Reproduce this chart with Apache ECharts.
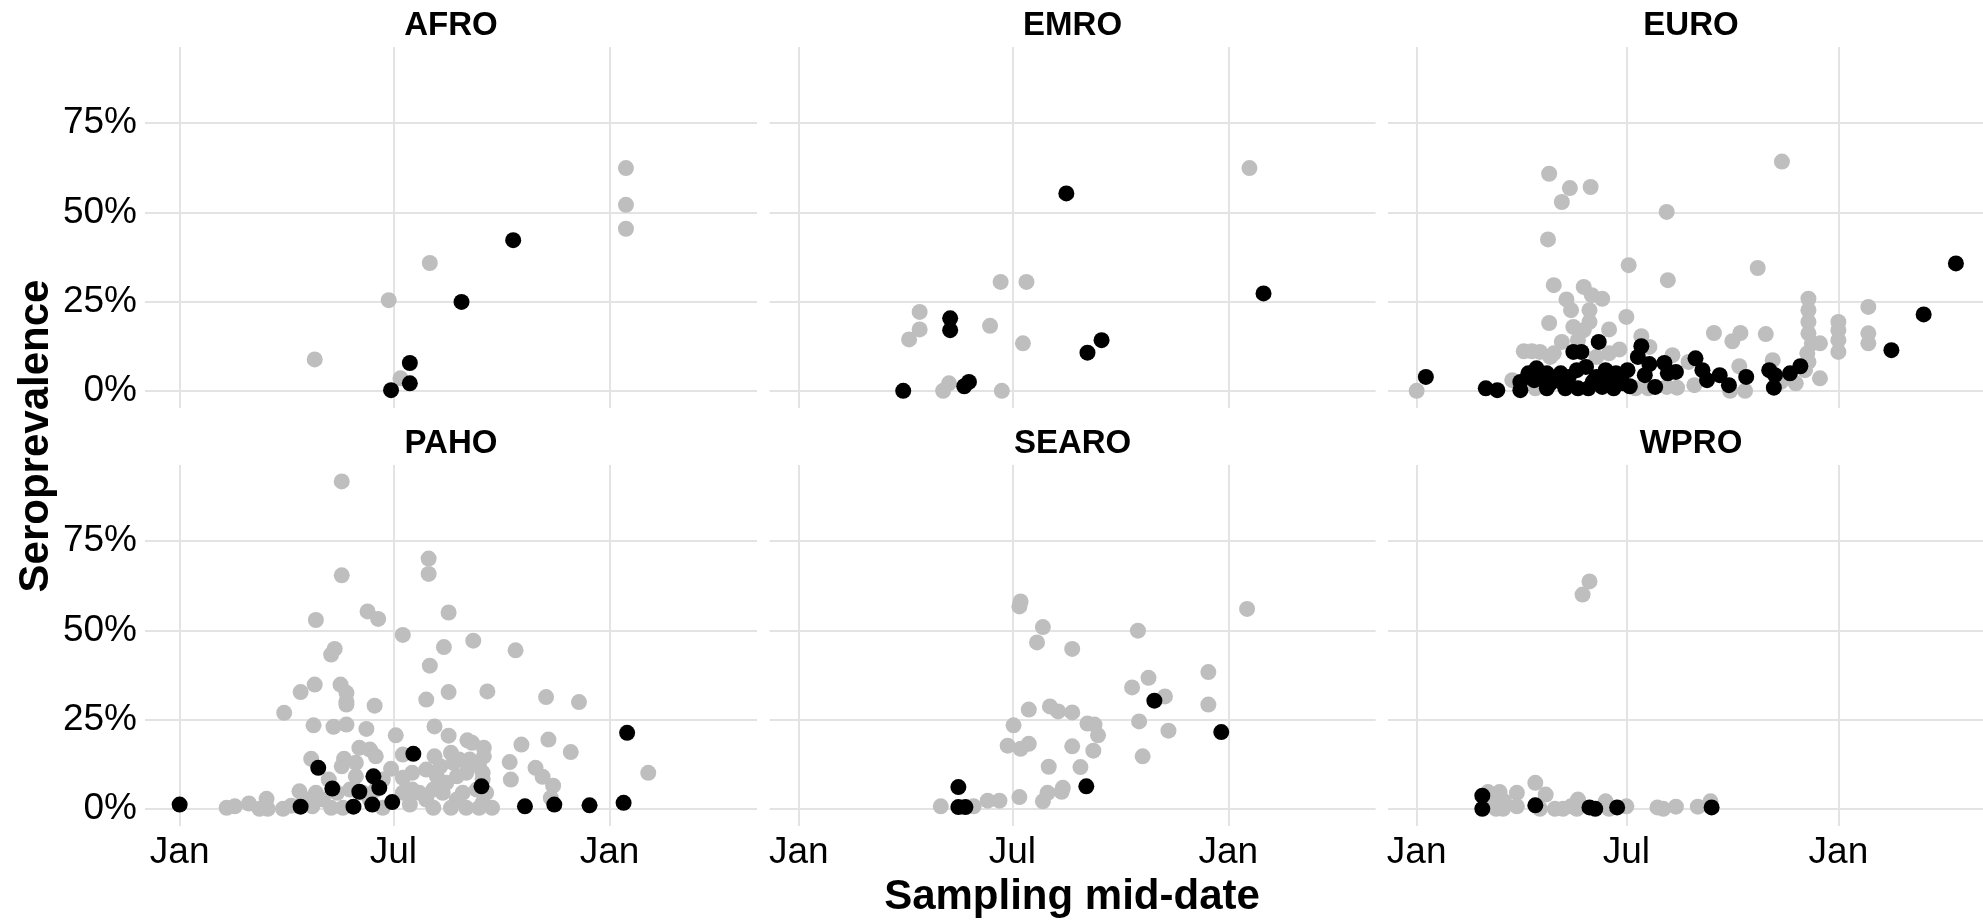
<!DOCTYPE html>
<html><head><meta charset="utf-8">
<script src="https://cdn.jsdelivr.net/npm/echarts@6/dist/echarts.min.js"></script>
<style>html,body{margin:0;padding:0;background:#fff}#c{width:1983px;height:920px}</style>
</head><body><div id="c"></div><script>
// ---------------- DATA ----------------
const regions = ['AFRO', 'EMRO', 'EURO', 'PAHO', 'SEARO', 'WPRO'];
const yTicks = [0, 25, 50, 75];
const yTickLabels = ['0%', '25%', '50%', '75%'];
const xTicks = ['2020-01-01', '2020-07-01', '2021-01-01'];
const xTickLabels = ['Jan', 'Jul', 'Jan'];
const xTitle = 'Sampling mid-date';
const yTitle = 'Seroprevalence';

const afroGray = [['2020-04-25',8.8],['2020-06-27',25.4],['2020-07-07',3.5],['2020-08-01',35.8],
  ['2021-01-15',62.4],['2021-01-15',52.1],['2021-01-15',45.4]];
const afroBlack = [['2020-06-29',0.2],['2020-07-15',2.1],['2020-07-15',7.8],['2020-08-28',24.9],['2020-10-11',42.2]];

const emroGray = [['2020-04-13',22.1],['2020-04-13',17.2],['2020-04-04',14.4],['2020-05-08',2.1],['2020-05-03',0],
  ['2020-06-12',18.2],['2020-06-21',30.5],['2020-07-13',30.5],['2020-07-10',13.3],['2020-06-22',0],['2021-01-19',62.4]];
const emroBlack = [['2020-03-30',0],['2020-05-09',20.3],['2020-05-09',17.0],['2020-05-21',1.3],['2020-05-25',2.5],
  ['2020-08-16',55.3],['2020-09-15',14.2],['2020-09-03',10.7],['2021-01-31',27.3]];

const euroGray = [['2020-01-01',0],['2020-04-25',60.8],['2020-05-13',56.8],['2020-05-06',52.9],['2020-05-31',57.1],
  ['2020-04-24',42.4],['2020-08-05',50.1],['2020-07-03',35.2],['2020-08-06',31],['2020-10-23',34.4],['2020-11-13',64.2],
  ['2020-04-29',29.6],['2020-05-25',29.1],['2020-05-10',25.6],['2020-06-01',26.8],['2020-06-10',25.8],['2020-05-14',22.6],
  ['2020-05-30',22.6],['2020-04-25',19.0],['2020-05-30',19.3],['2020-07-01',20.7],['2020-05-16',17.9],['2020-05-25',17.0],
  ['2020-06-16',17.2],['2020-05-06',13.7],['2020-05-20',14.2],['2020-04-03',11.1],['2020-04-10',11.1],['2020-04-17',10.9],
  ['2020-04-29',10.5],['2020-06-25',11.6],['2020-07-14',15.3],['2020-07-21',12.3],['2020-08-10',10.0],['2020-09-15',16.2],
  ['2020-10-01',13.9],['2020-10-08',16.2],['2020-10-30',15.9],['2020-08-24',8.1],['2020-10-07',6.9],['2020-11-05',8.6],
  ['2020-12-06',25.8],['2020-12-06',22.6],['2020-12-06',19.3],['2020-12-06',16.1],['2020-12-09',13.3],['2020-12-16',13.3],
  ['2020-12-05',10.5],['2020-12-06',8.1],['2020-12-03',5.8],['2020-12-16',3.5],['2020-11-25',2.1],
  ['2021-01-01',19.3],['2021-01-01',17.0],['2021-01-01',14.2],['2021-01-01',10.9],
  ['2021-01-27',23.5],['2021-01-27',16.1],['2021-01-27',13.3],
  ['2020-08-29',1.6],['2020-08-14',0.9],['2020-09-29',0],['2020-10-12',0],['2020-11-12',2.5],['2020-03-24',3.0],
  ['2020-04-13',0.7],['2020-04-26',9.5],['2020-06-05',9.5],['2020-06-16',10.5],['2020-07-09',0.7],['2020-07-20',0.7],['2020-08-05',1.1]];
const euroBlack = [['2020-01-09',3.9],['2020-03-01',0.7],['2020-03-11',0.2],['2020-03-31',0.2],['2020-03-31',2.5],
  ['2020-04-07',4.9],['2020-04-14',6.3],['2020-04-23',4.9],['2020-04-23',0.7],['2020-05-02',3.0],['2020-05-09',0.7],
  ['2020-05-16',10.9],['2020-05-23',10.9],['2020-05-19',5.8],['2020-05-20',0.7],['2020-05-29',0.7],['2020-05-27',6.7],
  ['2020-06-07',13.7],['2020-06-05',3.9],['2020-06-13',5.8],['2020-06-10',1.1],['2020-06-20',0.7],['2020-06-22',4.9],
  ['2020-07-02',5.8],['2020-07-04',1.3],['2020-07-14',12.5],['2020-07-11',9.5],['2020-07-21',7.5],['2020-07-17',4.4],
  ['2020-07-26',1.1],['2020-08-03',7.8],['2020-08-06',4.9],['2020-08-13',5.3],['2020-08-30',9.1],['2020-09-05',5.8],
  ['2020-09-09',3.0],['2020-09-20',4.4],['2020-09-28',1.6],['2020-10-13',3.9],['2020-11-02',5.8],['2020-11-07',4.4],
  ['2020-11-06',0.9],['2020-11-20',4.9],['2020-11-29',6.9],['2021-02-16',11.4],['2021-03-16',21.4],['2021-04-13',35.7],
  ['2020-04-12',3.0],['2020-04-20',3.0],['2020-05-05',4.9],['2020-05-12',3.9],['2020-06-02',2.6],['2020-06-16',2.1],
  ['2020-06-28',2.1],['2020-04-26',2.1]];

const pahoGray = [['2020-05-18',91.7],['2020-05-18',65.4],['2020-07-31',70.1],['2020-07-31',65.8],['2020-06-09',55.3],
  ['2020-06-18',53.2],['2020-08-17',55.0],['2020-04-26',52.9],['2020-07-09',48.7],['2020-09-07',47.1],['2020-08-13',45.3],
  ['2020-10-13',44.4],['2020-05-12',44.8],['2020-05-09',43.2],['2020-08-01',40.1],['2020-04-13',32.7],['2020-04-25',34.8],
  ['2020-05-17',34.8],['2020-05-22',32.5],['2020-05-22',30.1],['2020-05-22',29.2],['2020-06-15',28.9],['2020-07-29',30.6],
  ['2020-08-17',32.7],['2020-09-19',32.9],['2020-11-08',31.3],['2020-12-06',29.9],['2020-03-30',26.9],['2020-04-24',23.4],
  ['2020-05-11',23.0],['2020-05-22',23.6],['2020-06-08',22.4],['2020-07-03',20.6],['2020-08-05',23.1],['2020-08-17',20.5],
  ['2020-09-02',19.2],['2020-09-06',18.5],['2020-09-16',17.1],['2020-09-16',14.7],['2020-10-18',18.0],['2020-11-10',19.4],
  ['2020-11-29',15.9],['2020-10-08',13.1],['2020-10-09',8.2],['2020-10-30',11.5],['2020-11-05',9.0],['2020-11-14',6.5],
  ['2020-11-12',3.1],['2021-02-03',10.1],['2020-06-02',17.1],['2020-06-11',16.6],['2020-06-16',14.7],['2020-04-22',14.0],
  ['2020-05-20',14.0],['2020-05-18',11.9],['2020-05-30',12.9],['2020-07-09',15.2],['2020-08-05',14.7],['2020-06-29',11.2],
  ['2020-07-09',8.7],['2020-07-17',10.1],['2020-08-19',15.7],['2020-08-26',13.8],['2020-09-12',11.9],['2020-09-15',10.1],
  ['2020-04-12',4.9],['2020-04-26',4.5],['2020-05-07',8.2],['2020-05-30',9.1],['2020-03-15',2.8],['2020-02-29',1.5],
  ['2020-02-17',0.7],['2020-02-10',0.3],['2020-03-09',0],['2020-03-16',0],['2020-03-29',0],['2020-04-05',0.9],
  ['2020-04-23',0.7],['2020-05-09',0.3],['2020-05-19',0.3],['2020-06-22',0.3],['2020-07-15',1.2],['2020-07-23',4.5],
  ['2020-08-04',0.3],['2020-08-19',0.3],['2020-09-01',0.3],['2020-09-12',0.3],['2020-09-23',0.3],
  ['2020-07-29',11.0],['2020-08-07',9.1],['2020-08-15',7.3],['2020-08-24',9.1],['2020-09-01',10.1],['2020-08-12',4.5],
  ['2020-08-04',5.4],['2020-08-29',4.5],['2020-09-10',5.4],['2020-09-18',4.5],['2020-09-15',8.2],['2020-08-10',11.9],
  ['2020-08-21',12.9],['2020-09-04',13.8],['2020-07-29',2.6],['2020-08-24',2.6],['2020-09-15',1.7],['2020-07-09',4.5],
  ['2020-07-17',5.4],['2020-04-12',0.7],['2020-04-18',2.6],['2020-05-02',2.6],['2020-05-14',4.5],['2020-05-25',5.4],
  ['2020-06-05',4.5],['2020-06-11',2.6],['2020-06-16',5.4],['2020-06-22',8.2]];
const pahoBlack = [['2020-01-01',1.2],['2020-04-13',0.6],['2020-04-28',11.5],['2020-05-10',5.7],['2020-06-02',4.8],
  ['2020-05-28',0.6],['2020-06-14',9.1],['2020-06-19',5.9],['2020-06-13',1.2],['2020-06-30',1.9],['2020-07-18',15.4],
  ['2020-09-14',6.3],['2020-10-21',0.7],['2020-11-15',1.2],['2020-12-15',1.0],['2021-01-13',1.7],['2021-01-16',21.3]];

const searoGray = [['2020-07-08',58.1],['2020-07-07',56.7],['2020-07-27',50.9],['2020-07-22',46.6],['2020-08-21',44.8],
  ['2020-10-16',49.9],['2020-12-15',38.3],['2020-12-15',29.2],['2021-01-17',56.0],['2020-10-25',36.7],['2020-10-11',34.0],
  ['2020-11-08',31.5],['2020-10-17',24.5],['2020-11-11',21.9],['2020-10-20',14.7],['2020-07-15',27.8],['2020-08-02',28.7],
  ['2020-08-09',27.3],['2020-08-21',27.0],['2020-07-02',23.4],['2020-09-03',23.9],['2020-09-09',23.6],['2020-09-12',20.6],
  ['2020-06-27',17.7],['2020-07-08',16.8],['2020-07-15',18.2],['2020-08-21',17.5],['2020-09-08',16.3],['2020-08-01',11.8],
  ['2020-08-28',11.7],['2020-08-13',5.9],['2020-08-12',4.8],['2020-07-31',4.5],['2020-07-27',2.1],['2020-07-07',3.3],
  ['2020-06-20',2.3],['2020-06-10',2.3],['2020-05-29',0.7],['2020-05-01',0.7]];
const searoBlack = [['2020-05-16',6.1],['2020-05-16',0.5],['2020-05-22',0.5],['2020-09-02',6.3],['2020-10-30',30.3],['2020-12-26',21.5]];

const wproGray = [['2020-05-30',63.7],['2020-05-24',60.0],['2020-04-13',7.3],['2020-04-22',4.0],['2020-03-28',4.5],
  ['2020-03-13',4.7],['2020-03-08',2.6],['2020-03-17',2.1],['2020-03-10',0],['2020-03-16',0],['2020-03-28',0.7],
  ['2020-04-17',0],['2020-04-30',0],['2020-05-07',0],['2020-05-14',0.7],['2020-05-20',2.6],['2020-05-19',0],
  ['2020-06-13',2.1],['2020-06-16',0],['2020-07-01',0.7],['2020-07-28',0.4],['2020-08-02',0],['2020-08-13',0.6],
  ['2020-09-01',0.6],['2020-09-12',2.1],['2020-03-03',4.7]];
const wproBlack = [['2020-02-27',3.7],['2020-02-27',0],['2020-04-13',1.0],['2020-05-30',0.4],['2020-06-04',0],
  ['2020-06-23',0.4],['2020-09-13',0.4]];

const grayByRegion = [afroGray, emroGray, euroGray, pahoGray, searoGray, wproGray];
const blackByRegion = [afroBlack, emroBlack, euroBlack, pahoBlack, searoBlack, wproBlack];

// ---------------- LAYOUT ----------------
const FONT = '"Liberation Sans", Arial, Helvetica, sans-serif';
const colLayout = [
  {left: 145, width: 612, xmin: '2019-12-02 12:00', xmax: '2021-05-06 14:00'},
  {left: 769.6, width: 606, xmin: '2019-12-07 03:36', xmax: '2021-05-06 12:00'},
  {left: 1388, width: 606, xmin: '2019-12-07 03:36', xmax: '2021-05-06 12:00'}
];
const rowLayout = [{top: 47, height: 361, titleY: 26}, {top: 465, height: 361, titleY: 444}];
const yMin = -4.8, yMax = 96.3;
const GRID_COLOR = '#E3E3E3';

const parse = s => +echarts.time.parse(s);
const xTickVals = xTicks.map(parse);
const toPoints = arr => arr.map(d => [parse(d[0]), d[1]]);

const grid = [], xAxis = [], yAxis = [], series = [], graphic = [];
regions.forEach((name, i) => {
  const r = Math.floor(i / 3), c = i % 3;
  const cl = colLayout[c], rl = rowLayout[r];
  grid.push({left: cl.left, top: rl.top, width: cl.width, height: rl.height, containLabel: false});
  xAxis.push({
    type: 'value', gridIndex: i, min: parse(cl.xmin), max: parse(cl.xmax), scale: true,
    splitLine: {show: false}, axisLine: {show: false}, axisTick: {show: false},
    axisLabel: {
      show: r === 1, customValues: xTickVals, margin: 8, fontSize: 37, color: '#000', fontFamily: FONT,
      hideOverlap: false,
      formatter: v => { const k = xTickVals.indexOf(+v); return k >= 0 ? xTickLabels[k] : ''; }
    }
  });
  yAxis.push({
    type: 'value', gridIndex: i, min: yMin, max: yMax,
    splitLine: {show: false}, axisLine: {show: false}, axisTick: {show: false},
    axisLabel: {
      show: c === 0, customValues: yTicks, margin: 8, fontSize: 37, color: '#000', fontFamily: FONT,
      formatter: v => { const k = yTicks.indexOf(+v); return k >= 0 ? yTickLabels[k] : ''; }
    }
  });
  series.push({
    type: 'scatter', xAxisIndex: i, yAxisIndex: i, data: toPoints(grayByRegion[i]),
    symbolSize: 16, itemStyle: {color: '#BEBEBE', opacity: 1}, z: 2, silent: true,
    markLine: {
      silent: true, z: 1, symbol: ['none', 'none'], label: {show: false}, animation: false,
      lineStyle: {color: GRID_COLOR, width: 2, type: 'solid'},
      emphasis: {disabled: true},
      data: xTickVals.map(t => ({xAxis: t})).concat(yTicks.map(v => ({yAxis: v})))
    }
  });
  series.push({
    type: 'scatter', xAxisIndex: i, yAxisIndex: i, data: toPoints(blackByRegion[i]),
    symbolSize: 16, itemStyle: {color: '#000000', opacity: 1}, z: 3, silent: true
  });
  graphic.push({
    type: 'text', x: cl.left + cl.width / 2, y: rl.titleY,
    style: {text: name, fontSize: 33, fontWeight: 'bold', fontFamily: FONT, fill: '#000',
      textAlign: 'center', textVerticalAlign: 'middle'}
  });
});
graphic.push({
  type: 'text', x: 1072, y: 897,
  style: {text: xTitle, fontSize: 42, fontWeight: 'bold', fontFamily: FONT, fill: '#000',
    textAlign: 'center', textVerticalAlign: 'middle'}
});
graphic.push({
  type: 'text', x: 36, y: 436, rotation: Math.PI / 2,
  style: {text: yTitle, fontSize: 42, fontWeight: 'bold', fontFamily: FONT, fill: '#000',
    textAlign: 'center', textVerticalAlign: 'middle'}
});

const chart = echarts.init(document.getElementById('c'), null, {renderer: 'canvas'});
chart.setOption({
  backgroundColor: '#ffffff', animation: false,
  grid, xAxis, yAxis, series, graphic
});
</script></body></html>
